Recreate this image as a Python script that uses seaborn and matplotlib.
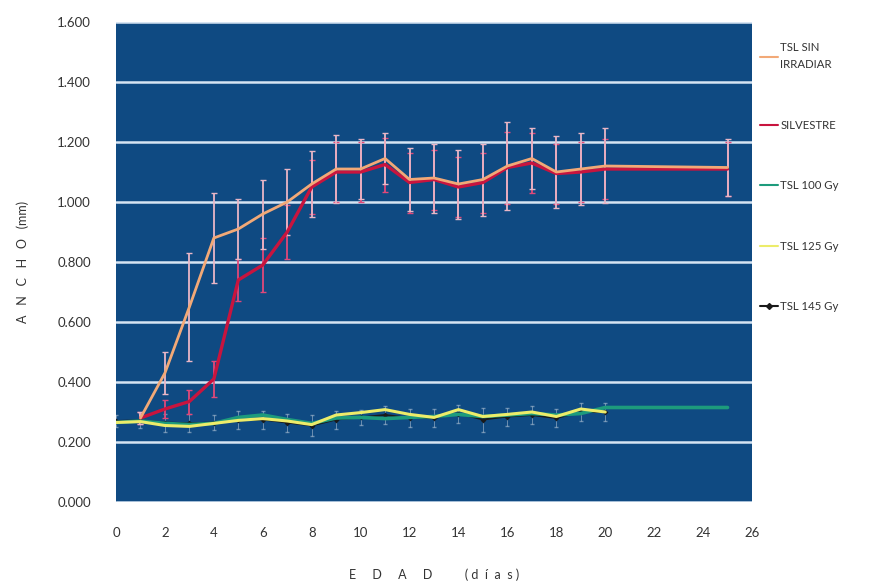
import numpy as np
import pandas as pd
import matplotlib
matplotlib.use("Agg")
import matplotlib.pyplot as plt
import seaborn as sns
from matplotlib.lines import Line2D

# ---------------- data ----------------
days_hi = [1, 2, 3, 4, 5, 6, 7, 8, 9, 10, 11, 12, 13, 14, 15, 16, 17, 18, 19, 20, 25]
sin_irradiar = [0.28, 0.43, 0.65, 0.88, 0.91, 0.96, 1.00, 1.06, 1.11, 1.11, 1.145, 1.075, 1.08,
                1.06, 1.075, 1.12, 1.145, 1.10, 1.11, 1.12, 1.115]
sin_irradiar_err = [0.02, 0.07, 0.18, 0.15, 0.10, 0.115, 0.11, 0.11, 0.115, 0.10, 0.085, 0.105,
                    0.115, 0.115, 0.12, 0.145, 0.10, 0.12, 0.12, 0.125, 0.095]
silvestre = [0.28, 0.31, 0.335, 0.41, 0.74, 0.79, 0.90, 1.05, 1.10, 1.10, 1.125, 1.065, 1.075,
             1.05, 1.065, 1.115, 1.13, 1.095, 1.10, 1.11, 1.11]
silvestre_err = [0.02, 0.03, 0.04, 0.06, 0.07, 0.09, 0.09, 0.09, 0.10, 0.10, 0.09, 0.10, 0.10,
                 0.10, 0.10, 0.12, 0.10, 0.10, 0.10, 0.10, 0.09]

days_lo = [0, 1, 2, 3, 4, 5, 6, 7, 8, 9, 10, 11, 12, 13, 14, 15, 16, 17, 18, 19, 20, 25]
tsl100 = [0.265, 0.270, 0.262, 0.258, 0.262, 0.282, 0.290, 0.275, 0.262, 0.280, 0.282, 0.278,
          0.282, 0.285, 0.292, 0.285, 0.290, 0.295, 0.290, 0.295, 0.315, 0.315]
tsl125 = [0.265, 0.268, 0.255, 0.252, 0.262, 0.272, 0.278, 0.270, 0.258, 0.290, 0.298, 0.308,
          0.292, 0.282, 0.308, 0.285, 0.292, 0.300, 0.285, 0.310, 0.300, np.nan]
tsl145 = [0.270, 0.272, 0.265, 0.262, 0.265, 0.272, 0.275, 0.265, 0.255, 0.275, 0.282, 0.290,
          0.280, 0.280, 0.295, 0.275, 0.285, 0.290, 0.280, 0.300, 0.300, np.nan]
lo_err = [0.02, 0.025, 0.03, 0.03, 0.025, 0.03, 0.03, 0.03, 0.035, 0.03, 0.025, 0.03, 0.03,
          0.03, 0.03, 0.04, 0.03, 0.03, 0.03, 0.03, 0.03, 0.04]

x_ticks = list(range(0, 27, 2))
y_ticks = [0.0, 0.2, 0.4, 0.6, 0.8, 1.0, 1.2, 1.4, 1.6]

labels = ["TSL SIN\nIRRADIAR", "SILVESTRE", "TSL 100 Gy", "TSL 125 Gy", "TSL 145 Gy"]
colors = ["#f2a977", "#c8143e", "#1d9b7c", "#ecec6a", "#1a1a1a"]

# ---------------- figure ----------------
sns.set_theme(style="white")
plt.rcParams["font.family"] = ["Lato", "DejaVu Sans"]

fig = plt.figure(figsize=(8.78, 5.83), dpi=100)
ax = fig.add_axes([116 / 878, 1 - 502 / 583, (752 - 116) / 878, (502 - 22) / 583])
ax.set_facecolor("#0f4a82")

df_hi = pd.DataFrame({"dia": days_hi, "sin": sin_irradiar, "silv": silvestre})
df_lo = pd.DataFrame({"dia": days_lo, "t100": tsl100, "t125": tsl125, "t145": tsl145})

# error bars
ax.errorbar(days_lo, tsl145, yerr=lo_err, fmt="none", ecolor="#c8d4e0", elinewidth=0.7,
            capsize=1.5, alpha=0.5, zorder=2)
ax.errorbar(days_hi, silvestre, yerr=silvestre_err, fmt="none", ecolor="#e0487a",
            elinewidth=1.3, capsize=2, zorder=2)
ax.errorbar(days_hi, sin_irradiar, yerr=sin_irradiar_err, fmt="none", ecolor="#e9b6c6",
            elinewidth=1.3, capsize=2, capthick=1, zorder=2)

sns.lineplot(data=df_lo, x="dia", y="t145", ax=ax, color=colors[4], lw=1.4,
             marker="D", markersize=3, markeredgewidth=0, zorder=3)
sns.lineplot(data=df_lo, x="dia", y="t100", ax=ax, color=colors[2], lw=2.6, zorder=4)
sns.lineplot(data=df_lo, x="dia", y="t125", ax=ax, color=colors[3], lw=2.2, zorder=5)
sns.lineplot(data=df_hi, x="dia", y="silv", ax=ax, color=colors[1], lw=2.4, zorder=6)
sns.lineplot(data=df_hi, x="dia", y="sin", ax=ax, color=colors[0], lw=2.0, zorder=7)

ax.set_xlim(0, 26)
ax.set_ylim(0, 1.6)
ax.set_xticks(x_ticks)
ax.set_xticklabels([str(t) for t in x_ticks])
ax.set_yticks(y_ticks)
ax.set_yticklabels([f"{v:.3f}" for v in y_ticks])
ax.tick_params(axis="both", length=0, labelsize=9.5, colors="#333333")
ax.tick_params(axis="x", pad=18)
ax.tick_params(axis="y", pad=18)
ax.yaxis.grid(True, color="#d6e4f2", lw=1.8)
ax.set_axisbelow(True)
for s in ax.spines.values():
    s.set_visible(False)

ax.set_xlabel("E     D     A     D          ( d  í  a  s )", fontsize=9, color="#333333",
              labelpad=21)
ax.set_ylabel("A   N   C   H   O   (mm)", fontsize=9, color="#333333", labelpad=20)

# legend
handles = [
    Line2D([], [], color=colors[0], lw=1.5),
    Line2D([], [], color=colors[1], lw=1.5),
    Line2D([], [], color=colors[2], lw=1.5),
    Line2D([], [], color=colors[3], lw=1.5),
    Line2D([], [], color=colors[4], lw=1.5, marker="D", markersize=3),
]
leg = ax.legend(handles, labels, loc="upper left", bbox_to_anchor=(1.005, 0.968),
                frameon=False, fontsize=8.2, labelspacing=4.35, handlelength=1.6,
                handletextpad=0.2, borderaxespad=0)
texts = leg.get_texts()
for t in texts:
    t.set_color("#333333")
texts[0].set_linespacing(1.7)

fig.savefig("out.png", dpi=100, facecolor="white")
